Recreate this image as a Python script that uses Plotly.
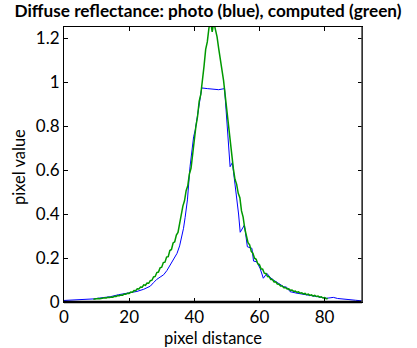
import numpy as np
import plotly.graph_objects as go

# Photo (blue) profile
photo_x = [0, 5, 9, 12, 14.2, 16.7, 18, 20.3, 22.4, 24.5, 26.5, 27.5, 28.5, 29.5, 30.6,
           31.6, 32.6, 33.7, 34.7, 35.5, 36.2, 36.7, 37.2, 37.9, 38.7, 39.3, 39.8, 40.3,
           41.3, 42.3, 44, 46, 47.5, 49.3, 50.1, 50.5, 51.0, 51.7, 52.7, 53.2, 53.6, 54.1,
           55.4, 56.3, 57.7, 58.2, 59.2, 60.2, 61.2, 62.3, 63.3, 64.3, 66.3, 67.4, 68.4,
           69.4, 71.5, 73.5, 76, 78.6, 80.7, 81.7, 82.7, 84, 85.8, 87.5, 89.5, 91.5]
photo_y = [0.007, 0.009, 0.014, 0.020, 0.024, 0.033, 0.036, 0.040, 0.048, 0.058, 0.072,
           0.088, 0.103, 0.113, 0.124, 0.143, 0.168, 0.193, 0.221, 0.255, 0.297, 0.335,
           0.385, 0.464, 0.615, 0.690, 0.751, 0.782, 0.870, 0.973, 0.970, 0.966, 0.965,
           0.970, 0.800, 0.750, 0.615, 0.634, 0.520, 0.464, 0.400, 0.317, 0.350, 0.251,
           0.244, 0.186, 0.183, 0.153, 0.108, 0.130, 0.112, 0.100, 0.080, 0.070, 0.067,
           0.047, 0.040, 0.035, 0.027, 0.020, 0.017, 0.019, 0.021, 0.016, 0.012, 0.011,
           0.008, 0.005]

# Computed (green) profile, sampled every 0.5 px from 9 to 81
computed_start = 9.0
computed_step = 0.5
computed_y = [
    0.012, 0.014, 0.013, 0.016, 0.015, 0.017, 0.016, 0.019, 0.018, 0.021,
    0.020, 0.023, 0.022, 0.026, 0.025, 0.029, 0.028, 0.032, 0.031, 0.036,
    0.035, 0.040, 0.039, 0.045, 0.044, 0.052, 0.051, 0.060, 0.059, 0.068,
    0.067, 0.078, 0.076, 0.086, 0.085, 0.097, 0.099, 0.114, 0.116, 0.134,
    0.136, 0.155, 0.158, 0.179, 0.181, 0.204, 0.206, 0.234, 0.239, 0.268,
    0.274, 0.304, 0.316, 0.360, 0.384, 0.436, 0.460, 0.506, 0.528, 0.582,
    0.608, 0.682, 0.728, 0.798, 0.842, 0.912, 0.944, 0.998, 1.072, 1.148,
    1.182, 1.245, 1.275, 1.228, 1.272, 1.238, 1.205, 1.152, 1.108, 1.048,
    1.006, 0.938, 0.866, 0.792, 0.746, 0.648, 0.606, 0.558, 0.536, 0.494,
    0.474, 0.414, 0.386, 0.334, 0.306, 0.270, 0.260, 0.230, 0.222, 0.199,
    0.194, 0.174, 0.170, 0.151, 0.149, 0.131, 0.130, 0.116, 0.115, 0.102,
    0.102, 0.091, 0.092, 0.082, 0.081, 0.073, 0.073, 0.065, 0.066, 0.059,
    0.060, 0.053, 0.054, 0.048, 0.050, 0.044, 0.046, 0.040, 0.042, 0.037,
    0.039, 0.033, 0.036, 0.030, 0.033, 0.027, 0.030, 0.025, 0.027, 0.022,
    0.024, 0.018, 0.020, 0.015, 0.016,
]
computed_x = computed_start + computed_step * np.arange(len(computed_y))

x_ticks = [0, 20, 40, 60, 80]
y_ticks = [0, 0.2, 0.4, 0.6, 0.8, 1, 1.2]
y_tick_labels = ["0", "0.2", "0.4", "0.6", "0.8", "1", "1.2"]

FONT = "Lato, 'Open Sans', sans-serif"

fig = go.Figure()
fig.add_trace(go.Scatter(x=photo_x, y=photo_y, mode="lines",
                         line=dict(color="#0000ff", width=1), showlegend=False))
fig.add_trace(go.Scatter(x=computed_x, y=computed_y, mode="lines",
                         line=dict(color="#009900", width=1.5), showlegend=False))

axis_common = dict(showgrid=False, zeroline=False, showline=True, linecolor="black",
                   linewidth=1, mirror="ticks", ticks="inside", ticklen=4,
                   tickcolor="black", automargin=False,
                   tickfont=dict(family=FONT, size=17, color="black"))

fig.update_layout(
    width=417, height=348,
    margin=dict(l=64, r=55, t=27, b=46),
    paper_bgcolor="white", plot_bgcolor="white",
    font=dict(family=FONT, color="black"),
    title=dict(text="<b>Diffuse reflectance: photo (blue), computed (green)</b>",
               font=dict(family=FONT, size=17.2, color="black"),
               x=208 / 417, xanchor="center", xref="container",
               y=1 - 11 / 348, yref="container", yanchor="middle"),
    xaxis=dict(range=[0, 91.5], tickvals=x_ticks, ticktext=[str(t) for t in x_ticks],
               ticklabelstandoff=0, **axis_common),
    yaxis=dict(range=[0, 1.25], tickvals=y_ticks, ticktext=y_tick_labels,
               ticklabelstandoff=0, **axis_common),
)
fig.add_annotation(text="pixel distance", xref="paper", yref="paper",
                   x=0.5, y=-(338 - 302) / 275, xanchor="center", yanchor="middle",
                   showarrow=False, font=dict(family=FONT, size=16.5, color="black"))
fig.add_annotation(text="pixel value", xref="paper", yref="paper",
                   x=-(64 - 19) / 298, y=(302 - 167) / 275, xanchor="center",
                   yanchor="middle", textangle=-90, showarrow=False,
                   font=dict(family=FONT, size=16.5, color="black"))
fig.add_shape(type="line", xref="paper", yref="paper", x0=0, x1=1, y0=0, y1=0,
              line=dict(color="black", width=2.5))
fig.add_shape(type="line", xref="paper", yref="paper", x0=1, x1=1, y0=0, y1=1,
              line=dict(color="#444", width=1.5))

fig.write_html("out.html", config={"displayModeBar": False},
               post_script="document.body.style.margin='0';")
